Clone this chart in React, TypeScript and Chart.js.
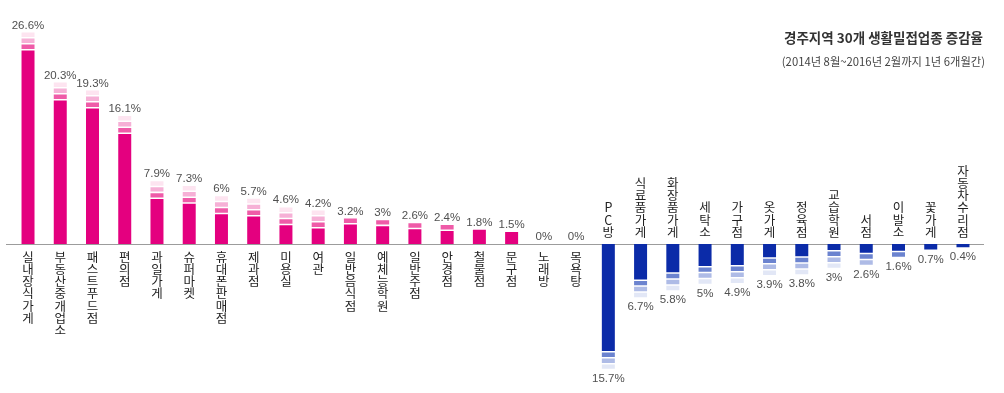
import React, { useEffect, useRef } from 'react';
import { Chart, registerables } from 'chart.js';

Chart.register(...registerables);

const categories = [
  '실내장식가게', '부동산중개업소', '패스트푸드점', '편의점', '과일가게', '슈퍼마켓',
  '휴대폰판매점', '제과점', '미용실', '여관', '일반음식점', '예체능학원',
  '일반주점', '안경점', '철물점', '문구점', '노래방', '목욕탕',
  'PC방', '식료품가게', '화장품가게', '세탁소', '가구점', '옷가게',
  '정육점', '교습학원', '서점', '이발소', '꽃가게', '자동차수리점',
];

const values = [
  26.6, 20.3, 19.3, 16.1, 7.9, 7.3,
  6, 5.7, 4.6, 4.2, 3.2, 3,
  2.6, 2.4, 1.8, 1.5, 0, 0,
  -15.7, -6.7, -5.8, -5, -4.9, -3.9,
  -3.8, -3, -2.6, -1.6, -0.7, -0.4,
];

// number of lighter "fade" segments drawn at the end of each bar
const segmentCounts = [
  3, 3, 3, 3, 3, 3,
  3, 3, 3, 3, 1, 1,
  1, 1, 0, 0, 0, 0,
  3, 3, 3, 3, 3, 3,
  3, 3, 2, 1, 0, 0,
];

const titleText = '경주지역 30개 생활밀접업종 증감율';
const subtitleText = '(2014년 8월~2016년 2월까지 1년 6개월간)';

const SEG = 0.56;
const GAP = 0.19;

const posColors = ['#e4007f', '#ef5ba8', '#f6b0d6', '#fde4f0'];
const negColors = ['#0b2ba8', '#6b83cf', '#aebbe6', '#e2e7f6'];

const sgn = (v: number) => (v < 0 ? -1 : 1);

function buildDatasets() {
  const main = values.map((v, i) => v - sgn(v) * segmentCounts[i] * (SEG + GAP));
  const ds: any[] = [
    {
      label: 'main',
      data: main,
      backgroundColor: values.map((v) => (v < 0 ? negColors[0] : posColors[0])),
    },
  ];
  for (let k = 1; k <= 3; k++) {
    ds.push({
      label: 'gap' + k,
      data: values.map((v, i) => (segmentCounts[i] >= k ? sgn(v) * GAP : 0)),
      backgroundColor: 'rgba(0,0,0,0)',
    });
    ds.push({
      label: 'seg' + k,
      data: values.map((v, i) => (segmentCounts[i] >= k ? sgn(v) * SEG : 0)),
      backgroundColor: values.map((v) => (v < 0 ? negColors[k] : posColors[k])),
    });
  }
  return ds.map((d) => ({
    ...d,
    borderWidth: 0,
    barPercentage: 1,
    categoryPercentage: 0.403,
  }));
}

const labelPlugin = {
  id: 'labelPlugin',
  beforeDatasetsDraw(chart: any) {
    const { ctx } = chart;
    const y0 = chart.scales.y.getPixelForValue(0);
    ctx.save();
    ctx.strokeStyle = '#9c9c9c';
    ctx.lineWidth = 1;
    ctx.beginPath();
    ctx.moveTo(6, Math.round(y0) + 0.5);
    ctx.lineTo(984, Math.round(y0) + 0.5);
    ctx.stroke();
    ctx.restore();
  },
  afterDatasetsDraw(chart: any) {
    const { ctx } = chart;
    const xs = chart.scales.x;
    const ys = chart.scales.y;
    const y0 = ys.getPixelForValue(0);
    ctx.save();
    // value labels
    ctx.font = '11.5px "Liberation Sans", Arial, sans-serif';
    ctx.fillStyle = '#505050';
    ctx.textAlign = 'center';
    ctx.textBaseline = 'alphabetic';
    values.forEach((v, i) => {
      const x = xs.getPixelForValue(i);
      const yv = ys.getPixelForValue(v);
      const txt = `${Math.abs(v)}%`;
      if (v >= 0) ctx.fillText(txt, x, yv - 4);
      else ctx.fillText(txt, x, yv + 13);
    });
    // category labels (vertical, one character per line)
    ctx.font = '12.5px "Noto Sans CJK KR", sans-serif';
    ctx.fillStyle = '#222222';
    ctx.textBaseline = 'middle';
    const step = 12.2;
    categories.forEach((c, i) => {
      const x = xs.getPixelForValue(i);
      const chars = Array.from(c);
      if (values[i] >= 0) {
        chars.forEach((ch, j) => ctx.fillText(ch, x, y0 + 13 + j * step));
      } else {
        const n = chars.length;
        chars.forEach((ch, j) => ctx.fillText(ch, x, y0 - 12 - (n - 1 - j) * step));
      }
    });
    // title
    ctx.textAlign = 'right';
    ctx.fillStyle = '#333333';
    ctx.font = 'bold 13.5px "Noto Sans CJK KR", sans-serif';
    ctx.fillText(titleText, 983, 38);
    ctx.font = '11.3px "Noto Sans CJK KR", sans-serif';
    ctx.fillStyle = '#444444';
    ctx.fillText(subtitleText, 985, 62);
    ctx.restore();
  },
};

export default function App() {
  const ref = useRef<HTMLCanvasElement | null>(null);
  useEffect(() => {
    if (!ref.current) return;
    const chart = new Chart(ref.current, {
      type: 'bar',
      data: { labels: categories, datasets: buildDatasets() },
      options: {
        animation: false,
        responsive: false,
        maintainAspectRatio: false,
        layout: { padding: { left: 11.9, right: 24.9, top: 29.35, bottom: 17.8 } },
        plugins: {
          legend: { display: false },
          tooltip: { enabled: false },
        },
        scales: {
          x: { stacked: true, display: false },
          y: { stacked: true, display: false, min: -16.5, max: 27 },
        },
      },
      plugins: [labelPlugin],
    });
    return () => chart.destroy();
  }, []);
  return (
    <div style={{ position: 'fixed', left: 0, top: 0, width: 1004, height: 393, background: '#fff' }}>
      <canvas ref={ref} width={1004} height={393} style={{ display: 'block', width: 1004, height: 393 }} />
    </div>
  );
}
